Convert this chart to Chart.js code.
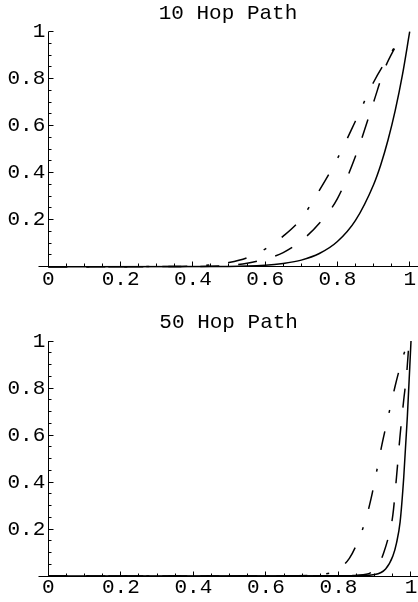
<!DOCTYPE html>
<html>
<head>
<meta charset="UTF-8">
<title>Hop Path</title>
<script src="https://cdn.jsdelivr.net/npm/chart.js@4.4.1/dist/chart.umd.min.js"></script>
<style>
  body { margin: 0; background: #fff; }
  canvas { position: absolute; left: 0; }
</style>
</head>
<body>
<canvas id="hop10" width="418" height="301" style="top:0px"></canvas>
<canvas id="hop50" width="418" height="301" style="top:301px"></canvas>
<script>
// tick labels
const xTicks = [0, 0.2, 0.4, 0.6, 0.8, 1];
const yTicks = [0.2, 0.4, 0.6, 0.8, 1];

// 10 hop path
const hop10SolidX = [0, 0.5, 0.6, 0.65, 0.7, 0.75, 0.8, 0.85, 0.9, 0.92, 0.94, 0.96, 0.98, 1];
const hop10SolidY = [0, 0.001, 0.006, 0.014, 0.028, 0.056, 0.107, 0.197, 0.349, 0.434, 0.539, 0.665, 0.817, 1];
const hop10DashX = [0, 0.4, 0.5, 0.55, 0.6, 0.65, 0.7, 0.75, 0.8, 0.85, 0.9, 0.93, 0.965];
const hop10DashY = [0, 0.001, 0.006, 0.015, 0.032, 0.06, 0.11, 0.185, 0.29, 0.47, 0.70, 0.84, 0.95];
const hop10DotX = [0, 0.35, 0.45, 0.5, 0.55, 0.6, 0.65, 0.7, 0.75, 0.8, 0.85, 0.9, 0.94, 0.965];
const hop10DotY = [0, 0.001, 0.008, 0.018, 0.038, 0.075, 0.13, 0.205, 0.325, 0.46, 0.62, 0.785, 0.89, 0.95];

// 50 hop path
const hop50SolidX = [0, 0.85, 0.9, 0.93, 0.95, 0.96, 0.97, 0.98, 0.99, 1];
const hop50SolidY = [0, 0.001, 0.006, 0.03, 0.085, 0.14, 0.23, 0.42, 0.68, 1];
const hop50DashX = [0, 0.8, 0.85, 0.89, 0.91, 0.925, 0.94, 0.95, 0.96, 0.97, 0.98, 0.988, 0.994];
const hop50DashY = [0, 0.0005, 0.003, 0.015, 0.045, 0.1, 0.18, 0.26, 0.42, 0.60, 0.75, 0.86, 0.985];
const hop50DotX = [0, 0.65, 0.72, 0.76, 0.79, 0.83, 0.855, 0.875, 0.89, 0.905, 0.92, 0.937, 0.955, 0.97, 0.984, 0.994];
const hop50DotY = [0, 0.0005, 0.003, 0.008, 0.02, 0.075, 0.153, 0.24, 0.33, 0.443, 0.56, 0.677, 0.8, 0.89, 0.96, 0.99];

const FONT = 'Liberation Mono, Courier New, monospace';

function pts(xs, ys) {
    return xs.map((x, i) => ({ x: x, y: ys[i] }));
}

function crisp(v) {
    return Math.round(v - 0.5) + 0.5;
}

// axes drawn the Mathematica way: crossing at origin, ticks pointing inward
const mmaAxes = {
    id: 'mmaAxes',
    beforeDatasetsDraw(chart, args, opts) {
        const ctx = chart.ctx;
        const xs = chart.scales.x, ys = chart.scales.y;
        const x0 = crisp(xs.getPixelForValue(0));
        const y0 = crisp(ys.getPixelForValue(0));
        const y1 = ys.getPixelForValue(1);
        ctx.save();
        ctx.strokeStyle = '#000';
        ctx.lineWidth = 1;
        ctx.beginPath();
        ctx.moveTo(x0 - 10, y0);
        ctx.lineTo(chart.width, y0);
        ctx.moveTo(x0, y0);
        ctx.lineTo(x0, y1);
        for (let i = 1; i <= 20; i++) {
            const v = i / 20;
            const len = (i % 4 === 0) ? 5 : 3;
            const px = crisp(xs.getPixelForValue(v));
            ctx.moveTo(px, y0);
            ctx.lineTo(px, y0 - len);
            const py = crisp(ys.getPixelForValue(v));
            ctx.moveTo(x0, py);
            ctx.lineTo(x0 + len, py);
        }
        ctx.stroke();

        // title over the plot range
        ctx.fillStyle = '#000';
        ctx.font = '21px ' + FONT;
        ctx.textAlign = 'center';
        ctx.textBaseline = 'alphabetic';
        ctx.fillText(opts.text, xs.getPixelForValue(0.5) - 1, opts.baseline);
        ctx.restore();
    }
};

function makePlot(id, title, solid, dash, dot, lay) {
    const lineBase = { borderColor: '#000', borderWidth: 1.5, pointRadius: 0, fill: false,
                       tension: 0.4, cubicInterpolationMode: 'monotone', clip: false };
    new Chart(document.getElementById(id).getContext('2d'), {
        type: 'line',
        data: {
            datasets: [
                Object.assign({ label: 'solid', data: solid }, lineBase),
                Object.assign({ label: 'dashed', data: dash, borderDash: [19, 19] }, lineBase),
                Object.assign({ label: 'dotdash', data: dot, borderDash: [19, 19, 3, 19] }, lineBase)
            ]
        },
        options: {
            responsive: false,
            animation: false,
            events: [],
            layout: { padding: { top: lay.top, left: 0, right: 0, bottom: 0 } },
            plugins: {
                legend: { display: false },
                tooltip: { enabled: false },
                mmaAxes: { text: title, baseline: lay.titleBase }
            },
            scales: {
                x: {
                    type: 'linear',
                    min: 0,
                    max: 1.0193,
                    grid: { display: false, drawTicks: false },
                    border: { display: false },
                    afterBuildTicks: axis => { axis.ticks = xTicks.map(v => ({ value: v })); },
                    afterFit: axis => { axis.height = lay.xHeight; },
                    ticks: {
                        autoSkip: false, maxRotation: 0, padding: lay.xPad, color: '#000',
                        font: { family: FONT, size: 21, lineHeight: 1 },
                        callback: v => (v === 0 || v === 1) ? String(v) : v.toFixed(1)
                    }
                },
                y: {
                    type: 'linear',
                    min: 0,
                    max: 1,
                    grid: { display: false, drawTicks: false },
                    border: { display: false },
                    afterBuildTicks: axis => { axis.ticks = yTicks.map(v => ({ value: v })); },
                    afterFit: axis => { axis.width = 48.3; },
                    ticks: {
                        padding: 3, color: '#000',
                        font: { family: FONT, size: 21, lineHeight: 1 },
                        callback: v => v === 1 ? '1' : v.toFixed(1)
                    }
                }
            }
        },
        plugins: [mmaAxes]
    });
}

makePlot('hop10', '10 Hop Path',
    pts(hop10SolidX, hop10SolidY), pts(hop10DashX, hop10DashY), pts(hop10DotX, hop10DotY),
    { top: 31.7, xHeight: 34.3, xPad: 2, titleBase: 18.5 });

makePlot('hop50', '50 Hop Path',
    pts(hop50SolidX, hop50SolidY), pts(hop50DashX, hop50DashY), pts(hop50DotX, hop50DotY),
    { top: 40, xHeight: 26, xPad: 0.5, titleBase: 27.3 });
</script>
</body>
</html>
